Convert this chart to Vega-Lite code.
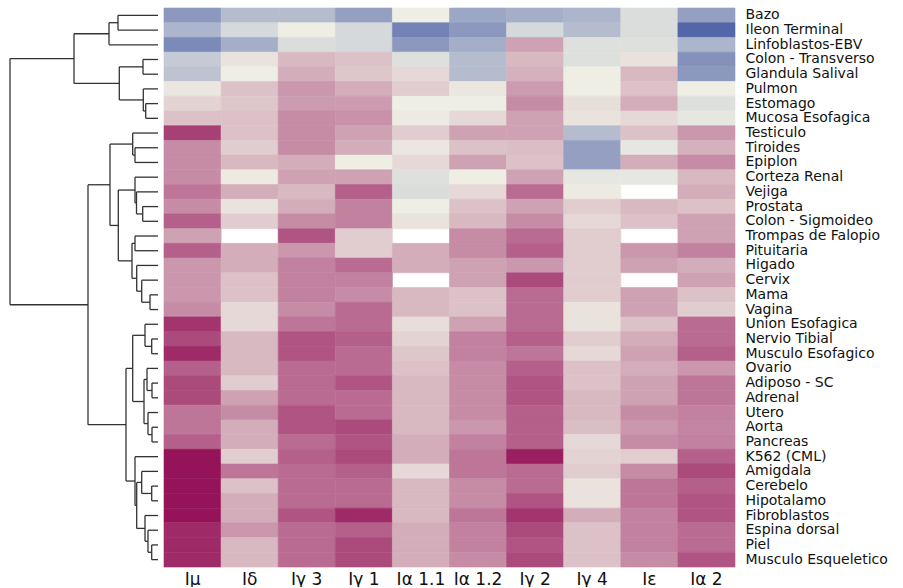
{
"$schema": "https://vega.github.io/schema/vega-lite/v6.json",
"background": "white",
"padding": {"left": 0, "top": 7, "right": 0, "bottom": 0},
"spacing": 0,
"bounds": "flush",
"config": {"view": {"stroke": null}},
"datasets": {
"links": [
{"x":40,"x2":40,"y":0,"y2":1},{"x":40,"x2":0,"y":0,"y2":0},{"x":40,"x2":0,"y":1,"y2":1},
{"x":49,"x2":49,"y":0.5,"y2":2},{"x":49,"x2":40,"y":0.5,"y2":0.5},{"x":49,"x2":0,"y":2,"y2":2},
{"x":15,"x2":15,"y":3,"y2":4},{"x":15,"x2":0,"y":3,"y2":3},{"x":15,"x2":0,"y":4,"y2":4},
{"x":12.3,"x2":12.3,"y":6,"y2":7},{"x":12.3,"x2":0,"y":6,"y2":6},{"x":12.3,"x2":0,"y":7,"y2":7},
{"x":14.7,"x2":14.7,"y":5,"y2":6.5},{"x":14.7,"x2":0,"y":5,"y2":5},{"x":14.7,"x2":12.3,"y":6.5,"y2":6.5},
{"x":38.7,"x2":38.7,"y":3.5,"y2":5.75},{"x":38.7,"x2":15,"y":3.5,"y2":3.5},{"x":38.7,"x2":14.7,"y":5.75,"y2":5.75},
{"x":84,"x2":84,"y":1.25,"y2":4.625},{"x":84,"x2":49,"y":1.25,"y2":1.25},{"x":84,"x2":38.7,"y":4.625,"y2":4.625},
{"x":23,"x2":23,"y":9,"y2":10},{"x":23,"x2":0,"y":9,"y2":9},{"x":23,"x2":0,"y":10,"y2":10},
{"x":25.3,"x2":25.3,"y":8,"y2":9.5},{"x":25.3,"x2":0,"y":8,"y2":8},{"x":25.3,"x2":23,"y":9.5,"y2":9.5},
{"x":15.3,"x2":15.3,"y":13,"y2":14},{"x":15.3,"x2":0,"y":13,"y2":13},{"x":15.3,"x2":0,"y":14,"y2":14},
{"x":21.5,"x2":21.5,"y":12,"y2":13.5},{"x":21.5,"x2":0,"y":12,"y2":12},{"x":21.5,"x2":15.3,"y":13.5,"y2":13.5},
{"x":23,"x2":23,"y":11,"y2":12.75},{"x":23,"x2":0,"y":11,"y2":11},{"x":23,"x2":21.5,"y":12.75,"y2":12.75},
{"x":23,"x2":23,"y":15,"y2":16},{"x":23,"x2":0,"y":15,"y2":15},{"x":23,"x2":0,"y":16,"y2":16},
{"x":8,"x2":8,"y":19,"y2":20},{"x":8,"x2":0,"y":19,"y2":19},{"x":8,"x2":0,"y":20,"y2":20},
{"x":16.3,"x2":16.3,"y":18,"y2":19.5},{"x":16.3,"x2":0,"y":18,"y2":18},{"x":16.3,"x2":8,"y":19.5,"y2":19.5},
{"x":21.3,"x2":21.3,"y":17,"y2":18.75},{"x":21.3,"x2":0,"y":17,"y2":17},{"x":21.3,"x2":16.3,"y":18.75,"y2":18.75},
{"x":26,"x2":26,"y":15.5,"y2":17.875},{"x":26,"x2":23,"y":15.5,"y2":15.5},{"x":26,"x2":21.3,"y":17.875,"y2":17.875},
{"x":39.7,"x2":39.7,"y":11.875,"y2":16.6875},{"x":39.7,"x2":23,"y":11.875,"y2":11.875},{"x":39.7,"x2":26,"y":16.6875,"y2":16.6875},
{"x":48,"x2":48,"y":8.75,"y2":14.28125},{"x":48,"x2":25.3,"y":8.75,"y2":8.75},{"x":48,"x2":39.7,"y":14.28125,"y2":14.28125},
{"x":6.3,"x2":6.3,"y":22,"y2":23},{"x":6.3,"x2":0,"y":22,"y2":22},{"x":6.3,"x2":0,"y":23,"y2":23},
{"x":13,"x2":13,"y":21,"y2":22.5},{"x":13,"x2":0,"y":21,"y2":21},{"x":13,"x2":6.3,"y":22.5,"y2":22.5},
{"x":6,"x2":6,"y":25,"y2":26},{"x":6,"x2":0,"y":25,"y2":25},{"x":6,"x2":0,"y":26,"y2":26},
{"x":11,"x2":11,"y":24,"y2":25.5},{"x":11,"x2":0,"y":24,"y2":24},{"x":11,"x2":6,"y":25.5,"y2":25.5},
{"x":6,"x2":6,"y":28,"y2":29},{"x":6,"x2":0,"y":28,"y2":28},{"x":6,"x2":0,"y":29,"y2":29},
{"x":10,"x2":10,"y":27,"y2":28.5},{"x":10,"x2":0,"y":27,"y2":27},{"x":10,"x2":6,"y":28.5,"y2":28.5},
{"x":14,"x2":14,"y":24.75,"y2":27.75},{"x":14,"x2":11,"y":24.75,"y2":24.75},{"x":14,"x2":10,"y":27.75,"y2":27.75},
{"x":25.3,"x2":25.3,"y":21.75,"y2":26.25},{"x":25.3,"x2":13,"y":21.75,"y2":21.75},{"x":25.3,"x2":14,"y":26.25,"y2":26.25},
{"x":6.3,"x2":6.3,"y":32,"y2":33},{"x":6.3,"x2":0,"y":32,"y2":32},{"x":6.3,"x2":0,"y":33,"y2":33},
{"x":16.3,"x2":16.3,"y":31,"y2":32.5},{"x":16.3,"x2":0,"y":31,"y2":31},{"x":16.3,"x2":6.3,"y":32.5,"y2":32.5},
{"x":6.3,"x2":6.3,"y":36,"y2":37},{"x":6.3,"x2":0,"y":36,"y2":36},{"x":6.3,"x2":0,"y":37,"y2":37},
{"x":10,"x2":10,"y":35,"y2":36.5},{"x":10,"x2":0,"y":35,"y2":35},{"x":10,"x2":6.3,"y":36.5,"y2":36.5},
{"x":13,"x2":13,"y":34,"y2":35.75},{"x":13,"x2":0,"y":34,"y2":34},{"x":13,"x2":10,"y":35.75,"y2":35.75},
{"x":21.3,"x2":21.3,"y":31.75,"y2":34.875},{"x":21.3,"x2":16.3,"y":31.75,"y2":31.75},{"x":21.3,"x2":13,"y":34.875,"y2":34.875},
{"x":23,"x2":23,"y":30,"y2":33.3125},{"x":23,"x2":0,"y":30,"y2":30},{"x":23,"x2":21.3,"y":33.3125,"y2":33.3125},
{"x":32,"x2":32,"y":24,"y2":31.65625},{"x":32,"x2":25.3,"y":24,"y2":24},{"x":32,"x2":23,"y":31.65625,"y2":31.65625},
{"x":70,"x2":70,"y":11.515625,"y2":27.828125},{"x":70,"x2":48,"y":11.515625,"y2":11.515625},{"x":70,"x2":32,"y":27.828125,"y2":27.828125},
{"x":148,"x2":148,"y":2.9375,"y2":19.671875},{"x":148,"x2":84,"y":2.9375,"y2":2.9375},{"x":148,"x2":70,"y":19.671875,"y2":19.671875}
],
"cells": [
{"t":"Bazo","c":"Iμ","v":-0.6},{"t":"Bazo","c":"Iδ","v":-0.35},{"t":"Bazo","c":"Iγ 3","v":-0.35},{"t":"Bazo","c":"Iγ 1","v":-0.55},{"t":"Bazo","c":"Iα 1.1","v":0.0},{"t":"Bazo","c":"Iα 1.2","v":-0.5},{"t":"Bazo","c":"Iγ 2","v":-0.45},{"t":"Bazo","c":"Iγ 4","v":-0.4},{"t":"Bazo","c":"Iε","v":-0.12},{"t":"Bazo","c":"Iα 2","v":-0.55},
{"t":"Ileon Terminal","c":"Iμ","v":-0.4},{"t":"Ileon Terminal","c":"Iδ","v":-0.15},{"t":"Ileon Terminal","c":"Iγ 3","v":0.0},{"t":"Ileon Terminal","c":"Iγ 1","v":-0.15},{"t":"Ileon Terminal","c":"Iα 1.1","v":-0.75},{"t":"Ileon Terminal","c":"Iα 1.2","v":-0.6},{"t":"Ileon Terminal","c":"Iγ 2","v":-0.15},{"t":"Ileon Terminal","c":"Iγ 4","v":-0.35},{"t":"Ileon Terminal","c":"Iε","v":-0.12},{"t":"Ileon Terminal","c":"Iα 2","v":-0.95},
{"t":"Linfoblastos-EBV","c":"Iμ","v":-0.7},{"t":"Linfoblastos-EBV","c":"Iδ","v":-0.45},{"t":"Linfoblastos-EBV","c":"Iγ 3","v":-0.12},{"t":"Linfoblastos-EBV","c":"Iγ 1","v":-0.15},{"t":"Linfoblastos-EBV","c":"Iα 1.1","v":-0.6},{"t":"Linfoblastos-EBV","c":"Iα 1.2","v":-0.45},{"t":"Linfoblastos-EBV","c":"Iγ 2","v":0.35},{"t":"Linfoblastos-EBV","c":"Iγ 4","v":-0.1},{"t":"Linfoblastos-EBV","c":"Iε","v":-0.1},{"t":"Linfoblastos-EBV","c":"Iα 2","v":-0.4},
{"t":"Colon - Transverso","c":"Iμ","v":-0.25},{"t":"Colon - Transverso","c":"Iδ","v":0.05},{"t":"Colon - Transverso","c":"Iγ 3","v":0.25},{"t":"Colon - Transverso","c":"Iγ 1","v":0.2},{"t":"Colon - Transverso","c":"Iα 1.1","v":-0.1},{"t":"Colon - Transverso","c":"Iα 1.2","v":-0.35},{"t":"Colon - Transverso","c":"Iγ 2","v":0.25},{"t":"Colon - Transverso","c":"Iγ 4","v":-0.1},{"t":"Colon - Transverso","c":"Iε","v":0.06},{"t":"Colon - Transverso","c":"Iα 2","v":-0.65},
{"t":"Glandula Salival","c":"Iμ","v":-0.3},{"t":"Glandula Salival","c":"Iδ","v":0.0},{"t":"Glandula Salival","c":"Iγ 3","v":0.3},{"t":"Glandula Salival","c":"Iγ 1","v":0.18},{"t":"Glandula Salival","c":"Iα 1.1","v":0.1},{"t":"Glandula Salival","c":"Iα 1.2","v":-0.35},{"t":"Glandula Salival","c":"Iγ 2","v":0.28},{"t":"Glandula Salival","c":"Iγ 4","v":0.0},{"t":"Glandula Salival","c":"Iε","v":0.25},{"t":"Glandula Salival","c":"Iα 2","v":-0.6},
{"t":"Pulmon","c":"Iμ","v":0.03},{"t":"Pulmon","c":"Iδ","v":0.2},{"t":"Pulmon","c":"Iγ 3","v":0.4},{"t":"Pulmon","c":"Iγ 1","v":0.3},{"t":"Pulmon","c":"Iα 1.1","v":0.15},{"t":"Pulmon","c":"Iα 1.2","v":0.03},{"t":"Pulmon","c":"Iγ 2","v":0.38},{"t":"Pulmon","c":"Iγ 4","v":0.0},{"t":"Pulmon","c":"Iε","v":0.2},{"t":"Pulmon","c":"Iα 2","v":0.0},
{"t":"Estomago","c":"Iμ","v":0.12},{"t":"Estomago","c":"Iδ","v":0.18},{"t":"Estomago","c":"Iγ 3","v":0.38},{"t":"Estomago","c":"Iγ 1","v":0.38},{"t":"Estomago","c":"Iα 1.1","v":0.0},{"t":"Estomago","c":"Iα 1.2","v":0.0},{"t":"Estomago","c":"Iγ 2","v":0.45},{"t":"Estomago","c":"Iγ 4","v":0.07},{"t":"Estomago","c":"Iε","v":0.3},{"t":"Estomago","c":"Iα 2","v":-0.1},
{"t":"Mucosa Esofagica","c":"Iμ","v":0.2},{"t":"Mucosa Esofagica","c":"Iδ","v":0.2},{"t":"Mucosa Esofagica","c":"Iγ 3","v":0.45},{"t":"Mucosa Esofagica","c":"Iγ 1","v":0.42},{"t":"Mucosa Esofagica","c":"Iα 1.1","v":0.02},{"t":"Mucosa Esofagica","c":"Iα 1.2","v":0.1},{"t":"Mucosa Esofagica","c":"Iγ 2","v":0.35},{"t":"Mucosa Esofagica","c":"Iγ 4","v":0.05},{"t":"Mucosa Esofagica","c":"Iε","v":0.1},{"t":"Mucosa Esofagica","c":"Iα 2","v":-0.05},
{"t":"Testiculo","c":"Iμ","v":0.8},{"t":"Testiculo","c":"Iδ","v":0.2},{"t":"Testiculo","c":"Iγ 3","v":0.45},{"t":"Testiculo","c":"Iγ 1","v":0.35},{"t":"Testiculo","c":"Iα 1.1","v":0.15},{"t":"Testiculo","c":"Iα 1.2","v":0.35},{"t":"Testiculo","c":"Iγ 2","v":0.35},{"t":"Testiculo","c":"Iγ 4","v":-0.35},{"t":"Testiculo","c":"Iε","v":0.2},{"t":"Testiculo","c":"Iα 2","v":0.4},
{"t":"Tiroides","c":"Iμ","v":0.45},{"t":"Tiroides","c":"Iδ","v":0.15},{"t":"Tiroides","c":"Iγ 3","v":0.45},{"t":"Tiroides","c":"Iγ 1","v":0.3},{"t":"Tiroides","c":"Iα 1.1","v":0.03},{"t":"Tiroides","c":"Iα 1.2","v":0.2},{"t":"Tiroides","c":"Iγ 2","v":0.22},{"t":"Tiroides","c":"Iγ 4","v":-0.55},{"t":"Tiroides","c":"Iε","v":-0.05},{"t":"Tiroides","c":"Iα 2","v":0.28},
{"t":"Epiplon","c":"Iμ","v":0.45},{"t":"Epiplon","c":"Iδ","v":0.25},{"t":"Epiplon","c":"Iγ 3","v":0.3},{"t":"Epiplon","c":"Iγ 1","v":0.0},{"t":"Epiplon","c":"Iα 1.1","v":0.1},{"t":"Epiplon","c":"Iα 1.2","v":0.35},{"t":"Epiplon","c":"Iγ 2","v":0.2},{"t":"Epiplon","c":"Iγ 4","v":-0.55},{"t":"Epiplon","c":"Iε","v":0.3},{"t":"Epiplon","c":"Iα 2","v":0.45},
{"t":"Corteza Renal","c":"Iμ","v":0.45},{"t":"Corteza Renal","c":"Iδ","v":0.02},{"t":"Corteza Renal","c":"Iγ 3","v":0.35},{"t":"Corteza Renal","c":"Iγ 1","v":0.35},{"t":"Corteza Renal","c":"Iα 1.1","v":-0.1},{"t":"Corteza Renal","c":"Iα 1.2","v":0.0},{"t":"Corteza Renal","c":"Iγ 2","v":0.35},{"t":"Corteza Renal","c":"Iγ 4","v":-0.05},{"t":"Corteza Renal","c":"Iε","v":-0.05},{"t":"Corteza Renal","c":"Iα 2","v":0.25},
{"t":"Vejiga","c":"Iμ","v":0.55},{"t":"Vejiga","c":"Iδ","v":0.3},{"t":"Vejiga","c":"Iγ 3","v":0.25},{"t":"Vejiga","c":"Iγ 1","v":0.65},{"t":"Vejiga","c":"Iα 1.1","v":-0.12},{"t":"Vejiga","c":"Iα 1.2","v":0.1},{"t":"Vejiga","c":"Iγ 2","v":0.6},{"t":"Vejiga","c":"Iγ 4","v":0.02},{"t":"Vejiga","c":"Iα 2","v":0.3},
{"t":"Prostata","c":"Iμ","v":0.45},{"t":"Prostata","c":"Iδ","v":0.05},{"t":"Prostata","c":"Iγ 3","v":0.3},{"t":"Prostata","c":"Iγ 1","v":0.5},{"t":"Prostata","c":"Iα 1.1","v":0.0},{"t":"Prostata","c":"Iα 1.2","v":0.2},{"t":"Prostata","c":"Iγ 2","v":0.35},{"t":"Prostata","c":"Iγ 4","v":0.15},{"t":"Prostata","c":"Iε","v":0.25},{"t":"Prostata","c":"Iα 2","v":0.2},
{"t":"Colon - Sigmoideo","c":"Iμ","v":0.65},{"t":"Colon - Sigmoideo","c":"Iδ","v":0.15},{"t":"Colon - Sigmoideo","c":"Iγ 3","v":0.45},{"t":"Colon - Sigmoideo","c":"Iγ 1","v":0.5},{"t":"Colon - Sigmoideo","c":"Iα 1.1","v":0.05},{"t":"Colon - Sigmoideo","c":"Iα 1.2","v":0.25},{"t":"Colon - Sigmoideo","c":"Iγ 2","v":0.45},{"t":"Colon - Sigmoideo","c":"Iγ 4","v":0.1},{"t":"Colon - Sigmoideo","c":"Iε","v":0.2},{"t":"Colon - Sigmoideo","c":"Iα 2","v":0.35},
{"t":"Trompas de Falopio","c":"Iμ","v":0.35},{"t":"Trompas de Falopio","c":"Iγ 3","v":0.7},{"t":"Trompas de Falopio","c":"Iγ 1","v":0.15},{"t":"Trompas de Falopio","c":"Iα 1.2","v":0.45},{"t":"Trompas de Falopio","c":"Iγ 2","v":0.6},{"t":"Trompas de Falopio","c":"Iγ 4","v":0.15},{"t":"Trompas de Falopio","c":"Iα 2","v":0.35},
{"t":"Pituitaria","c":"Iμ","v":0.65},{"t":"Pituitaria","c":"Iδ","v":0.3},{"t":"Pituitaria","c":"Iγ 3","v":0.4},{"t":"Pituitaria","c":"Iγ 1","v":0.15},{"t":"Pituitaria","c":"Iα 1.1","v":0.3},{"t":"Pituitaria","c":"Iα 1.2","v":0.45},{"t":"Pituitaria","c":"Iγ 2","v":0.65},{"t":"Pituitaria","c":"Iγ 4","v":0.15},{"t":"Pituitaria","c":"Iε","v":0.4},{"t":"Pituitaria","c":"Iα 2","v":0.5},
{"t":"Higado","c":"Iμ","v":0.4},{"t":"Higado","c":"Iδ","v":0.3},{"t":"Higado","c":"Iγ 3","v":0.5},{"t":"Higado","c":"Iγ 1","v":0.6},{"t":"Higado","c":"Iα 1.1","v":0.3},{"t":"Higado","c":"Iα 1.2","v":0.35},{"t":"Higado","c":"Iγ 2","v":0.4},{"t":"Higado","c":"Iγ 4","v":0.15},{"t":"Higado","c":"Iε","v":0.35},{"t":"Higado","c":"Iα 2","v":0.3},
{"t":"Cervix","c":"Iμ","v":0.4},{"t":"Cervix","c":"Iδ","v":0.2},{"t":"Cervix","c":"Iγ 3","v":0.5},{"t":"Cervix","c":"Iγ 1","v":0.5},{"t":"Cervix","c":"Iα 1.2","v":0.35},{"t":"Cervix","c":"Iγ 2","v":0.75},{"t":"Cervix","c":"Iγ 4","v":0.15},{"t":"Cervix","c":"Iα 2","v":0.35},
{"t":"Mama","c":"Iμ","v":0.4},{"t":"Mama","c":"Iδ","v":0.2},{"t":"Mama","c":"Iγ 3","v":0.5},{"t":"Mama","c":"Iγ 1","v":0.45},{"t":"Mama","c":"Iα 1.1","v":0.25},{"t":"Mama","c":"Iα 1.2","v":0.2},{"t":"Mama","c":"Iγ 2","v":0.6},{"t":"Mama","c":"Iγ 4","v":0.15},{"t":"Mama","c":"Iε","v":0.35},{"t":"Mama","c":"Iα 2","v":0.2},
{"t":"Vagina","c":"Iμ","v":0.45},{"t":"Vagina","c":"Iδ","v":0.1},{"t":"Vagina","c":"Iγ 3","v":0.45},{"t":"Vagina","c":"Iγ 1","v":0.6},{"t":"Vagina","c":"Iα 1.1","v":0.25},{"t":"Vagina","c":"Iα 1.2","v":0.2},{"t":"Vagina","c":"Iγ 2","v":0.6},{"t":"Vagina","c":"Iγ 4","v":0.05},{"t":"Vagina","c":"Iε","v":0.35},{"t":"Vagina","c":"Iα 2","v":0.15},
{"t":"Union Esofagica","c":"Iμ","v":0.85},{"t":"Union Esofagica","c":"Iδ","v":0.1},{"t":"Union Esofagica","c":"Iγ 3","v":0.55},{"t":"Union Esofagica","c":"Iγ 1","v":0.6},{"t":"Union Esofagica","c":"Iα 1.1","v":0.08},{"t":"Union Esofagica","c":"Iα 1.2","v":0.35},{"t":"Union Esofagica","c":"Iγ 2","v":0.6},{"t":"Union Esofagica","c":"Iγ 4","v":0.05},{"t":"Union Esofagica","c":"Iε","v":0.2},{"t":"Union Esofagica","c":"Iα 2","v":0.6},
{"t":"Nervio Tibial","c":"Iμ","v":0.75},{"t":"Nervio Tibial","c":"Iδ","v":0.25},{"t":"Nervio Tibial","c":"Iγ 3","v":0.7},{"t":"Nervio Tibial","c":"Iγ 1","v":0.65},{"t":"Nervio Tibial","c":"Iα 1.1","v":0.12},{"t":"Nervio Tibial","c":"Iα 1.2","v":0.5},{"t":"Nervio Tibial","c":"Iγ 2","v":0.65},{"t":"Nervio Tibial","c":"Iγ 4","v":0.15},{"t":"Nervio Tibial","c":"Iε","v":0.3},{"t":"Nervio Tibial","c":"Iα 2","v":0.6},
{"t":"Musculo Esofagico","c":"Iμ","v":0.9},{"t":"Musculo Esofagico","c":"Iδ","v":0.25},{"t":"Musculo Esofagico","c":"Iγ 3","v":0.7},{"t":"Musculo Esofagico","c":"Iγ 1","v":0.6},{"t":"Musculo Esofagico","c":"Iα 1.1","v":0.18},{"t":"Musculo Esofagico","c":"Iα 1.2","v":0.5},{"t":"Musculo Esofagico","c":"Iγ 2","v":0.55},{"t":"Musculo Esofagico","c":"Iγ 4","v":0.1},{"t":"Musculo Esofagico","c":"Iε","v":0.35},{"t":"Musculo Esofagico","c":"Iα 2","v":0.65},
{"t":"Ovario","c":"Iμ","v":0.65},{"t":"Ovario","c":"Iδ","v":0.25},{"t":"Ovario","c":"Iγ 3","v":0.6},{"t":"Ovario","c":"Iγ 1","v":0.6},{"t":"Ovario","c":"Iα 1.1","v":0.2},{"t":"Ovario","c":"Iα 1.2","v":0.45},{"t":"Ovario","c":"Iγ 2","v":0.65},{"t":"Ovario","c":"Iγ 4","v":0.2},{"t":"Ovario","c":"Iε","v":0.3},{"t":"Ovario","c":"Iα 2","v":0.4},
{"t":"Adiposo - SC","c":"Iμ","v":0.75},{"t":"Adiposo - SC","c":"Iδ","v":0.15},{"t":"Adiposo - SC","c":"Iγ 3","v":0.6},{"t":"Adiposo - SC","c":"Iγ 1","v":0.7},{"t":"Adiposo - SC","c":"Iα 1.1","v":0.25},{"t":"Adiposo - SC","c":"Iα 1.2","v":0.45},{"t":"Adiposo - SC","c":"Iγ 2","v":0.7},{"t":"Adiposo - SC","c":"Iγ 4","v":0.2},{"t":"Adiposo - SC","c":"Iε","v":0.35},{"t":"Adiposo - SC","c":"Iα 2","v":0.55},
{"t":"Adrenal","c":"Iμ","v":0.75},{"t":"Adrenal","c":"Iδ","v":0.35},{"t":"Adrenal","c":"Iγ 3","v":0.6},{"t":"Adrenal","c":"Iγ 1","v":0.6},{"t":"Adrenal","c":"Iα 1.1","v":0.25},{"t":"Adrenal","c":"Iα 1.2","v":0.45},{"t":"Adrenal","c":"Iγ 2","v":0.7},{"t":"Adrenal","c":"Iγ 4","v":0.25},{"t":"Adrenal","c":"Iε","v":0.35},{"t":"Adrenal","c":"Iα 2","v":0.55},
{"t":"Utero","c":"Iμ","v":0.55},{"t":"Utero","c":"Iδ","v":0.45},{"t":"Utero","c":"Iγ 3","v":0.7},{"t":"Utero","c":"Iγ 1","v":0.6},{"t":"Utero","c":"Iα 1.1","v":0.25},{"t":"Utero","c":"Iα 1.2","v":0.45},{"t":"Utero","c":"Iγ 2","v":0.65},{"t":"Utero","c":"Iγ 4","v":0.25},{"t":"Utero","c":"Iε","v":0.45},{"t":"Utero","c":"Iα 2","v":0.5},
{"t":"Aorta","c":"Iμ","v":0.55},{"t":"Aorta","c":"Iδ","v":0.3},{"t":"Aorta","c":"Iγ 3","v":0.7},{"t":"Aorta","c":"Iγ 1","v":0.75},{"t":"Aorta","c":"Iα 1.1","v":0.25},{"t":"Aorta","c":"Iα 1.2","v":0.4},{"t":"Aorta","c":"Iγ 2","v":0.65},{"t":"Aorta","c":"Iγ 4","v":0.22},{"t":"Aorta","c":"Iε","v":0.4},{"t":"Aorta","c":"Iα 2","v":0.48},
{"t":"Pancreas","c":"Iμ","v":0.65},{"t":"Pancreas","c":"Iδ","v":0.3},{"t":"Pancreas","c":"Iγ 3","v":0.6},{"t":"Pancreas","c":"Iγ 1","v":0.7},{"t":"Pancreas","c":"Iα 1.1","v":0.3},{"t":"Pancreas","c":"Iα 1.2","v":0.5},{"t":"Pancreas","c":"Iγ 2","v":0.65},{"t":"Pancreas","c":"Iγ 4","v":0.1},{"t":"Pancreas","c":"Iε","v":0.45},{"t":"Pancreas","c":"Iα 2","v":0.5},
{"t":"K562 (CML)","c":"Iμ","v":1.0},{"t":"K562 (CML)","c":"Iδ","v":0.15},{"t":"K562 (CML)","c":"Iγ 3","v":0.65},{"t":"K562 (CML)","c":"Iγ 1","v":0.75},{"t":"K562 (CML)","c":"Iα 1.1","v":0.3},{"t":"K562 (CML)","c":"Iα 1.2","v":0.55},{"t":"K562 (CML)","c":"Iγ 2","v":0.95},{"t":"K562 (CML)","c":"Iγ 4","v":0.12},{"t":"K562 (CML)","c":"Iε","v":0.15},{"t":"K562 (CML)","c":"Iα 2","v":0.65},
{"t":"Amigdala","c":"Iμ","v":1.0},{"t":"Amigdala","c":"Iδ","v":0.55},{"t":"Amigdala","c":"Iγ 3","v":0.6},{"t":"Amigdala","c":"Iγ 1","v":0.65},{"t":"Amigdala","c":"Iα 1.1","v":0.1},{"t":"Amigdala","c":"Iα 1.2","v":0.55},{"t":"Amigdala","c":"Iγ 2","v":0.6},{"t":"Amigdala","c":"Iγ 4","v":0.15},{"t":"Amigdala","c":"Iε","v":0.45},{"t":"Amigdala","c":"Iα 2","v":0.75},
{"t":"Cerebelo","c":"Iμ","v":1.0},{"t":"Cerebelo","c":"Iδ","v":0.2},{"t":"Cerebelo","c":"Iγ 3","v":0.6},{"t":"Cerebelo","c":"Iγ 1","v":0.6},{"t":"Cerebelo","c":"Iα 1.1","v":0.25},{"t":"Cerebelo","c":"Iα 1.2","v":0.45},{"t":"Cerebelo","c":"Iγ 2","v":0.6},{"t":"Cerebelo","c":"Iγ 4","v":0.05},{"t":"Cerebelo","c":"Iε","v":0.55},{"t":"Cerebelo","c":"Iα 2","v":0.65},
{"t":"Hipotalamo","c":"Iμ","v":1.0},{"t":"Hipotalamo","c":"Iδ","v":0.3},{"t":"Hipotalamo","c":"Iγ 3","v":0.6},{"t":"Hipotalamo","c":"Iγ 1","v":0.6},{"t":"Hipotalamo","c":"Iα 1.1","v":0.25},{"t":"Hipotalamo","c":"Iα 1.2","v":0.45},{"t":"Hipotalamo","c":"Iγ 2","v":0.7},{"t":"Hipotalamo","c":"Iγ 4","v":0.05},{"t":"Hipotalamo","c":"Iε","v":0.55},{"t":"Hipotalamo","c":"Iα 2","v":0.7},
{"t":"Fibroblastos","c":"Iμ","v":1.0},{"t":"Fibroblastos","c":"Iδ","v":0.3},{"t":"Fibroblastos","c":"Iγ 3","v":0.7},{"t":"Fibroblastos","c":"Iγ 1","v":0.9},{"t":"Fibroblastos","c":"Iα 1.1","v":0.25},{"t":"Fibroblastos","c":"Iα 1.2","v":0.55},{"t":"Fibroblastos","c":"Iγ 2","v":0.85},{"t":"Fibroblastos","c":"Iγ 4","v":0.3},{"t":"Fibroblastos","c":"Iε","v":0.5},{"t":"Fibroblastos","c":"Iα 2","v":0.7},
{"t":"Espina dorsal","c":"Iμ","v":0.9},{"t":"Espina dorsal","c":"Iδ","v":0.4},{"t":"Espina dorsal","c":"Iγ 3","v":0.6},{"t":"Espina dorsal","c":"Iγ 1","v":0.65},{"t":"Espina dorsal","c":"Iα 1.1","v":0.3},{"t":"Espina dorsal","c":"Iα 1.2","v":0.5},{"t":"Espina dorsal","c":"Iγ 2","v":0.75},{"t":"Espina dorsal","c":"Iγ 4","v":0.2},{"t":"Espina dorsal","c":"Iε","v":0.5},{"t":"Espina dorsal","c":"Iα 2","v":0.6},
{"t":"Piel","c":"Iμ","v":0.9},{"t":"Piel","c":"Iδ","v":0.25},{"t":"Piel","c":"Iγ 3","v":0.6},{"t":"Piel","c":"Iγ 1","v":0.75},{"t":"Piel","c":"Iα 1.1","v":0.3},{"t":"Piel","c":"Iα 1.2","v":0.5},{"t":"Piel","c":"Iγ 2","v":0.7},{"t":"Piel","c":"Iγ 4","v":0.2},{"t":"Piel","c":"Iε","v":0.5},{"t":"Piel","c":"Iα 2","v":0.6},
{"t":"Musculo Esqueletico","c":"Iμ","v":0.9},{"t":"Musculo Esqueletico","c":"Iδ","v":0.25},{"t":"Musculo Esqueletico","c":"Iγ 3","v":0.6},{"t":"Musculo Esqueletico","c":"Iγ 1","v":0.75},{"t":"Musculo Esqueletico","c":"Iα 1.1","v":0.3},{"t":"Musculo Esqueletico","c":"Iα 1.2","v":0.45},{"t":"Musculo Esqueletico","c":"Iγ 2","v":0.75},{"t":"Musculo Esqueletico","c":"Iγ 4","v":0.2},{"t":"Musculo Esqueletico","c":"Iε","v":0.45},{"t":"Musculo Esqueletico","c":"Iα 2","v":0.7}
]
},
"hconcat": [
{
"width": 164, "height": 559,
"data": {"name": "links"},
"mark": {"type": "rule", "color": "#333333", "strokeWidth": 1.3},
"encoding": {
"x": {"field": "x", "type": "quantitative", "scale": {"domain": [-6, 158], "reverse": true, "nice": false, "zero": false}, "axis": null},
"x2": {"field": "x2"},
"y": {"field": "y", "type": "quantitative", "scale": {"domain": [-0.5, 37.5], "reverse": true, "nice": false, "zero": false}, "axis": null},
"y2": {"field": "y2"}
}
},
{
"width": 571, "height": 559,
"data": {"name": "cells"},
"mark": {"type": "rect", "strokeWidth": 0.6},
"encoding": {
"x": {"field": "c", "type": "nominal", "sort": ["Iμ","Iδ","Iγ 3","Iγ 1","Iα 1.1","Iα 1.2","Iγ 2","Iγ 4","Iε","Iα 2"], "scale": {"paddingInner": 0, "paddingOuter": 0},
"axis": {"title": null, "orient": "bottom", "labelAngle": 0, "ticks": false, "tickSize": 0, "domain": false, "labelFont": "DejaVu Sans", "labelFontSize": 17, "labelColor": "#111111", "labelPadding": 4}},
"y": {"field": "t", "type": "nominal", "sort": ["Bazo","Ileon Terminal","Linfoblastos-EBV","Colon - Transverso","Glandula Salival","Pulmon","Estomago","Mucosa Esofagica","Testiculo","Tiroides","Epiplon","Corteza Renal","Vejiga","Prostata","Colon - Sigmoideo","Trompas de Falopio","Pituitaria","Higado","Cervix","Mama","Vagina","Union Esofagica","Nervio Tibial","Musculo Esofagico","Ovario","Adiposo - SC","Adrenal","Utero","Aorta","Pancreas","K562 (CML)","Amigdala","Cerebelo","Hipotalamo","Fibroblastos","Espina dorsal","Piel","Musculo Esqueletico"], "scale": {"paddingInner": 0, "paddingOuter": 0},
"axis": {"title": null, "orient": "right", "ticks": false, "tickSize": 0, "domain": false, "labelFont": "DejaVu Sans", "labelFontSize": 14, "labelColor": "#111111", "labelPadding": 10, "labelLimit": 0}},
"color": {"field": "v", "type": "quantitative", "scale": {"domain": [-1, 0, 1], "range": ["#4a5fa5", "#eeeee4", "#951459"], "interpolate": "rgb"}, "legend": null},
"stroke": {"field": "v", "type": "quantitative", "scale": {"domain": [-1, 0, 1], "range": ["#4a5fa5", "#eeeee4", "#951459"], "interpolate": "rgb"}, "legend": null}
}
}
]
}
